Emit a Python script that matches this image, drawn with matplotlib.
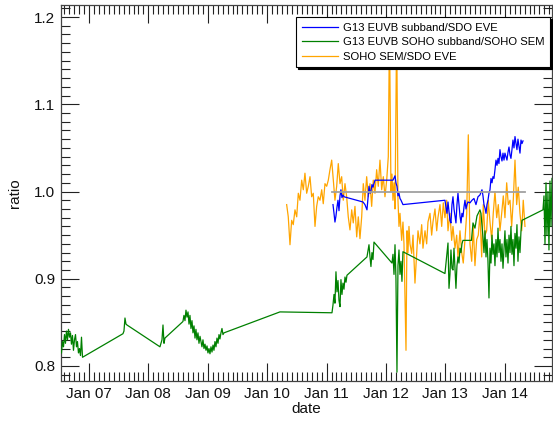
import matplotlib
matplotlib.use("Agg")
import matplotlib.pyplot as plt
from matplotlib.ticker import MultipleLocator, FixedLocator, FixedFormatter

plt.rcParams['font.family'] = ['Liberation Sans', 'DejaVu Sans']

# ---------------- data (decimal years, ratio) ----------------
green_t = [2006.537, 2006.554, 2006.571, 2006.588, 2006.604, 2006.621, 2006.638, 2006.655,
           2006.672, 2006.689, 2006.705, 2006.722, 2006.739, 2006.756, 2006.773, 2006.790,
           2006.806, 2006.823, 2006.840, 2006.857, 2006.874, 2006.891,
           2007.572, 2007.589, 2007.606, 2007.623, 2007.640,
           2008.195, 2008.229, 2008.246, 2008.263, 2008.279,
           2008.582, 2008.599, 2008.616, 2008.633, 2008.650, 2008.667, 2008.684, 2008.700,
           2008.717, 2008.734, 2008.751, 2008.768, 2008.785, 2008.801, 2008.818, 2008.835,
           2008.852, 2008.869, 2008.886, 2008.902, 2008.919, 2008.936, 2008.953, 2008.970,
           2008.987, 2009.003, 2009.020, 2009.037, 2009.054, 2009.071, 2009.088, 2009.104,
           2009.121, 2009.138, 2009.155, 2009.172, 2009.189, 2009.205, 2009.222, 2009.239,
           2009.256, 2009.273,
           2010.215,
           2011.091, 2011.108, 2011.125, 2011.141, 2011.158, 2011.175, 2011.192, 2011.209,
           2011.226, 2011.242, 2011.259, 2011.276, 2011.293, 2011.310, 2011.327, 2011.343,
           2011.680, 2011.697, 2011.714, 2011.731, 2011.747, 2011.764, 2011.781, 2011.798,
           2012.101, 2012.118, 2012.135, 2012.152, 2012.168, 2012.185, 2012.202, 2012.219,
           2012.236, 2012.253, 2012.269, 2012.286,
           2012.993, 2013.010, 2013.027, 2013.044, 2013.061, 2013.077, 2013.094, 2013.111,
           2013.128, 2013.145, 2013.162, 2013.178, 2013.195, 2013.212, 2013.229, 2013.246,
           2013.263, 2013.279, 2013.296,
           2013.439, 2013.465, 2013.498, 2013.532, 2013.582, 2013.599,
           2013.633, 2013.650, 2013.667, 2013.684, 2013.700, 2013.717, 2013.734, 2013.751,
           2013.768, 2013.785, 2013.801, 2013.818, 2013.835, 2013.852, 2013.869, 2013.886,
           2013.902, 2013.919, 2013.936, 2013.953, 2013.970, 2013.987, 2014.003, 2014.020,
           2014.037, 2014.054, 2014.071, 2014.088, 2014.104, 2014.121, 2014.138, 2014.155,
           2014.172, 2014.189, 2014.205, 2014.222, 2014.239, 2014.256, 2014.273, 2014.290,
           2014.643, 2014.660, 2014.677, 2014.694, 2014.710, 2014.727, 2014.744, 2014.761,
           2014.778, 2014.795]
green_r = [0.815, 0.828, 0.822, 0.836, 0.826, 0.840, 0.830, 0.842,
           0.833, 0.838, 0.825, 0.835, 0.818, 0.830, 0.836, 0.822,
           0.828, 0.815, 0.820, 0.812, 0.833, 0.810,
           0.837, 0.840, 0.855, 0.848, 0.847,
           0.822, 0.830, 0.847, 0.826, 0.832,
           0.851, 0.858, 0.852, 0.864, 0.856, 0.862, 0.848, 0.858,
           0.843, 0.852, 0.838, 0.846, 0.832, 0.842, 0.830, 0.838,
           0.826, 0.834, 0.828, 0.822, 0.830, 0.820, 0.825, 0.818,
           0.823, 0.815, 0.820, 0.814, 0.822, 0.816, 0.824, 0.818,
           0.828, 0.822, 0.832, 0.826, 0.836, 0.831, 0.838, 0.843,
           0.836, 0.838,
           0.862,
           0.861, 0.870, 0.882, 0.872, 0.908, 0.885, 0.898, 0.875,
           0.868, 0.899, 0.882, 0.895, 0.888, 0.902, 0.896, 0.904,
           0.925, 0.932, 0.939, 0.925, 0.914, 0.930, 0.922, 0.942,
           0.918, 0.928, 0.905, 0.939, 0.900, 0.793, 0.915, 0.933,
           0.905, 0.920, 0.897, 0.931,
           0.906, 0.918, 0.929, 0.941, 0.889, 0.905, 0.933, 0.912,
           0.910, 0.935, 0.912, 0.889, 0.915, 0.925, 0.918, 0.935,
           0.930, 0.940, 0.944,
           0.944, 0.964, 0.958, 0.972, 0.979, 0.975,
           0.948, 0.930, 0.955, 0.925, 0.945, 0.920, 0.878, 0.935,
           0.918, 0.950, 0.928, 0.940, 0.915, 0.945, 0.925, 0.958,
           0.930, 0.945, 0.920, 0.940, 0.912, 0.935, 0.955, 0.925,
           0.945, 0.918, 0.950, 0.930, 0.960, 0.928, 0.945, 0.915,
           0.952, 0.935, 0.962, 0.920, 0.948, 0.930, 0.955, 0.967,
           0.979, 0.995, 0.940, 1.010, 0.950, 1.000, 0.933, 1.012,
           0.960, 1.015]

blue_t = [2011.108, 2011.125, 2011.141, 2011.158, 2011.175, 2011.192, 2011.209, 2011.226,
          2011.242, 2011.259, 2011.276, 2011.293,
          2011.613, 2011.646, 2011.680, 2011.697, 2011.714, 2011.731, 2011.747, 2011.764,
          2011.781, 2011.815,
          2012.118, 2012.152, 2012.168, 2012.185, 2012.202, 2012.219, 2012.236, 2012.253,
          2012.286,
          2012.993, 2013.010, 2013.027, 2013.044, 2013.061, 2013.077, 2013.094, 2013.111,
          2013.128, 2013.145, 2013.162, 2013.178, 2013.195, 2013.212, 2013.229, 2013.246,
          2013.263, 2013.279, 2013.296, 2013.313, 2013.330, 2013.347, 2013.364, 2013.380,
          2013.414, 2013.448, 2013.481, 2013.515, 2013.549, 2013.582, 2013.616, 2013.633,
          2013.650, 2013.667, 2013.684, 2013.700, 2013.717, 2013.734, 2013.751, 2013.768,
          2013.785, 2013.801, 2013.818, 2013.835, 2013.852, 2013.869, 2013.886, 2013.902,
          2013.919, 2013.936, 2013.953, 2013.970, 2013.987, 2014.003, 2014.020, 2014.037,
          2014.054, 2014.071, 2014.088, 2014.104, 2014.121, 2014.138, 2014.155, 2014.172,
          2014.189, 2014.205, 2014.222, 2014.239, 2014.256, 2014.273, 2014.290, 2014.307]
blue_r = [0.985, 0.975, 0.965, 0.972, 0.982, 0.990, 0.978, 0.995,
          1.002, 0.993, 0.996, 0.994,
          0.988, 0.985, 0.979, 0.992, 1.006, 0.998, 1.000, 1.008,
          1.005, 1.013,
          1.013, 1.018, 1.010, 1.006, 0.995, 0.998, 0.992, 0.990,
          0.985,
          0.990, 0.982, 0.975, 0.988, 0.977, 0.967, 0.964, 0.985,
          0.994, 0.980, 0.972, 0.964, 0.985, 0.998, 0.985, 0.972,
          0.964, 0.975, 0.971, 0.982, 0.990, 0.980, 0.985, 0.988,
          0.987, 0.990, 0.992, 0.985, 0.994, 0.996, 1.002, 0.995,
          0.985, 0.981, 0.975, 0.985, 0.990, 0.998, 1.002, 1.015,
          1.010, 1.017, 1.015, 1.025, 1.036, 1.030, 1.038, 1.032,
          1.048, 1.040, 1.035, 1.044, 1.036, 1.044, 1.040, 1.036,
          1.045, 1.051, 1.042, 1.038, 1.048, 1.059, 1.050, 1.063,
          1.055, 1.048, 1.060, 1.052, 1.044, 1.059, 1.055, 1.058]

orange_t = [2010.328, 2010.355, 2010.384, 2010.412, 2010.439, 2010.468, 2010.497, 2010.524,
            2010.552, 2010.581, 2010.608, 2010.636, 2010.665, 2010.692, 2010.721, 2010.749,
            2010.776, 2010.805, 2010.833, 2010.860, 2010.889, 2010.918, 2010.944, 2010.973,
            2011.002, 2011.029, 2011.057, 2011.086, 2011.113, 2011.141, 2011.170, 2011.197,
            2011.226, 2011.254, 2011.281, 2011.310, 2011.338, 2011.365, 2011.394, 2011.423,
            2011.449, 2011.478, 2011.507, 2011.534, 2011.562, 2011.591, 2011.618, 2011.646,
            2011.675, 2011.702, 2011.731, 2011.759, 2011.786, 2011.815, 2011.843, 2011.870,
            2011.899, 2011.928, 2011.955, 2011.983, 2012.012, 2012.039, 2012.059, 2012.084,
            2012.101, 2012.118, 2012.135, 2012.152, 2012.180, 2012.202, 2012.219, 2012.236,
            2012.264, 2012.286, 2012.303, 2012.337, 2012.354, 2012.370, 2012.387, 2012.404,
            2012.433, 2012.455, 2012.488, 2012.517, 2012.539, 2012.572, 2012.601, 2012.623,
            2012.657, 2012.685, 2012.707, 2012.741, 2012.769, 2012.791, 2012.825, 2012.854,
            2012.875, 2012.909, 2012.938, 2012.965, 2012.993, 2013.022, 2013.044, 2013.077,
            2013.106, 2013.128, 2013.162, 2013.190, 2013.212, 2013.246, 2013.275, 2013.301,
            2013.330, 2013.359, 2013.386, 2013.414, 2013.443, 2013.470, 2013.498, 2013.527,
            2013.554, 2013.582, 2013.611, 2013.638, 2013.667, 2013.695, 2013.722, 2013.751,
            2013.780, 2013.806, 2013.835, 2013.864, 2013.891, 2013.919, 2013.948, 2013.975,
            2014.003, 2014.032, 2014.059, 2014.088, 2014.116, 2014.143, 2014.172, 2014.200,
            2014.227, 2014.256, 2014.285, 2014.311, 2014.340]
orange_r = [0.985, 0.971, 0.939, 0.967, 0.962, 0.979, 0.971, 0.998,
            0.990, 1.013, 1.002, 1.021, 0.998, 1.006, 1.017, 0.994,
            0.998, 0.960, 0.983, 0.994, 0.990, 1.002, 0.986, 1.009,
            1.006, 1.013, 1.025, 1.036, 1.013, 0.990, 1.006, 1.032,
            1.009, 1.017, 0.990, 1.009, 0.994, 0.971, 0.956, 0.979,
            0.964, 0.983, 0.948, 0.971, 0.946, 0.971, 1.009, 0.990,
            1.017, 0.994, 1.009, 0.983, 1.013, 0.998, 1.025, 1.006,
            1.036, 1.002, 1.017, 0.994, 1.013, 1.040, 1.190, 1.000,
            1.020, 0.990, 1.010, 0.980, 1.190, 0.990, 0.960, 0.975,
            0.944, 0.965, 0.940, 0.818, 0.955, 0.930, 0.960, 0.940,
            0.929, 0.950, 0.895, 0.930, 0.955, 0.940, 0.962, 0.935,
            0.955, 0.940, 0.965, 0.975, 0.950, 0.965, 0.980, 0.955,
            0.970, 0.985, 0.960, 0.987, 0.970, 0.990, 0.955, 0.975,
            0.944, 0.960, 0.935, 0.950, 0.925, 0.955, 0.930, 0.918,
            0.945, 0.975, 1.065, 0.940, 0.920, 0.960, 0.915, 0.945,
            0.950, 0.975, 0.925, 0.985, 0.950, 0.955, 0.990, 0.965,
            0.945, 0.975, 1.000, 0.970, 0.985, 0.955, 0.975, 0.995,
            0.970, 1.010, 0.985, 0.990, 0.960, 0.990, 1.036, 0.985,
            1.005, 0.975, 0.955, 0.990, 0.960]

ref_t = [2011.09, 2014.34]
ref_r = [1.0, 1.0]

labels = ["G13 EUVB subband/SDO EVE",
          "G13 EUVB SOHO subband/SOHO SEM",
          "SOHO SEM/SDO EVE"]
xtick_vals = [2007, 2008, 2009, 2010, 2011, 2012, 2013, 2014]
xtick_labels = ["Jan 07", "Jan 08", "Jan 09", "Jan 10", "Jan 11", "Jan 12", "Jan 13", "Jan 14"]
ytick_vals = [0.8, 0.9, 1.0, 1.1, 1.2]
ytick_labels = ["0.8", "0.9", "1.0", "1.1", "1.2"]

# ---------------- figure ----------------
fig = plt.figure(figsize=(5.53, 4.22), dpi=100)
ax = fig.add_axes([61/553, 1 - 381/422, 491/553, 376/422])

l_orange, = ax.plot(orange_t, orange_r, color='#ffa500', lw=0.9, zorder=2)
l_green, = ax.plot(green_t, green_r, color='#008000', lw=0.9, zorder=3)
l_blue, = ax.plot(blue_t, blue_r, color='#0000ff', lw=0.9, zorder=4)
ax.plot(ref_t, ref_r, color='#a0a0a0', lw=1.3, zorder=5)

ax.set_xlim(2006.529, 2014.795)
ax.set_ylim(0.7828, 1.2138)

ax.xaxis.set_major_locator(FixedLocator(xtick_vals))
ax.xaxis.set_major_formatter(FixedFormatter(xtick_labels))
ax.xaxis.set_minor_locator(MultipleLocator(1/12))
ax.yaxis.set_major_locator(FixedLocator(ytick_vals))
ax.yaxis.set_major_formatter(FixedFormatter(ytick_labels))
ax.yaxis.set_minor_locator(MultipleLocator(0.01))

ax.tick_params(which='both', direction='in', top=True, right=True,
               color='#222222', width=0.8, labelsize=11, labelcolor='#111111')
ax.tick_params(which='major', length=13, pad=4)
ax.tick_params(which='minor', length=6.5)
for s in ax.spines.values():
    s.set_linewidth(0.9)
    s.set_color('#444444')

ax.set_xlabel('date', fontsize=11, labelpad=1, color='#111111')
ax.set_ylabel('ratio', fontsize=11, labelpad=9, color='#111111')

leg = ax.legend([l_blue, l_green, l_orange], labels, loc='upper right',
                bbox_to_anchor=(0.996, 0.967), borderaxespad=0, fontsize=8.1,
                handlelength=3.2, handletextpad=0.45, labelspacing=0.38,
                borderpad=0.5, fancybox=False, framealpha=1,
                shadow={'color': 'black', 'alpha': 1.0, 'ox': 1.5, 'oy': -1.5})
leg.get_frame().set_edgecolor('black')
leg.get_frame().set_linewidth(0.8)
leg.set_zorder(10)

fig.savefig('out.png', dpi=100)
